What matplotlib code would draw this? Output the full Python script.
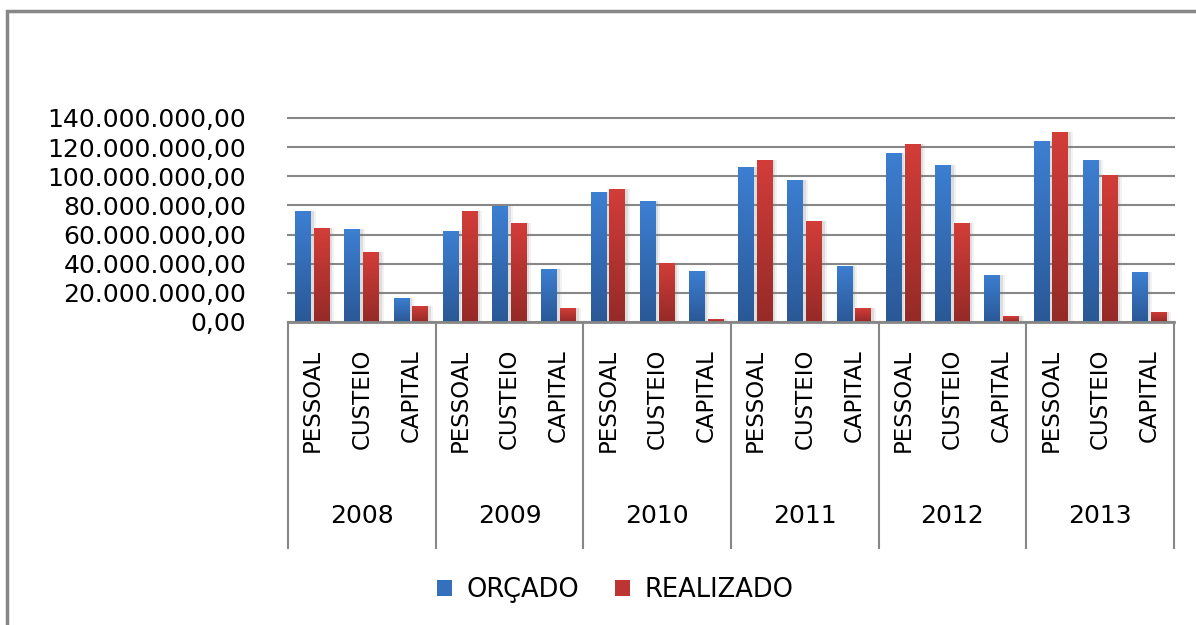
import numpy as np
import matplotlib
matplotlib.use("Agg")
import matplotlib.pyplot as plt
from matplotlib.patches import Patch, Rectangle
from matplotlib.colors import LinearSegmentedColormap
import matplotlib.transforms as mtransforms

# dados
anos = ["2008", "2009", "2010", "2011", "2012", "2013"]
categorias = ["PESSOAL", "CUSTEIO", "CAPITAL"]
orcado = [76.2e6, 63.8e6, 16.5e6,
          62.5e6, 79.8e6, 36.4e6,
          89.2e6, 83.0e6, 35.0e6,
          106.4e6, 97.5e6, 38.6e6,
          116.0e6, 107.8e6, 32.3e6,
          124.2e6, 111.2e6, 34.3e6]
realizado = [64.5e6, 48.0e6, 11.0e6,
             76.2e6, 68.0e6, 9.6e6,
             91.3e6, 40.5e6, 2.0e6,
             111.2e6, 69.3e6, 9.6e6,
             122.2e6, 68.0e6, 4.1e6,
             130.4e6, 100.9e6, 6.9e6]
yticks = np.arange(0, 140e6 + 1, 20e6)

W, H = 1196, 625
fig = plt.figure(figsize=(W / 100, H / 100), dpi=100)
ax = fig.add_axes([288 / W, 1 - 322 / H, (1174 - 288) / W, (322 - 118) / H])

azul = LinearSegmentedColormap.from_list("azul", ["#2a5896", "#3d7fd2"])
verm = LinearSegmentedColormap.from_list("verm", ["#952a27", "#d33d39"])
grad = np.linspace(0, 1, 256).reshape(-1, 1)

x = np.arange(len(orcado))
larg = 0.325
desl = 0.19


def barras(xs, vals, cmap):
    # sombra leve a direita
    for k, a in [(0.05, 0.18), (0.09, 0.10)]:
        ax.bar(xs + k, vals, larg, color="#808080", alpha=a, zorder=2, linewidth=0)
    bs = ax.bar(xs, vals, larg, color="none", zorder=3, linewidth=0)
    for b in bs:
        x0, w, h = b.get_x(), b.get_width(), b.get_height()
        im = ax.imshow(grad, extent=[x0, x0 + w, 0, h], origin="lower",
                       cmap=cmap, aspect="auto", zorder=3)
        im.set_clip_path(b)


barras(x - desl, np.array(orcado), azul)
barras(x + desl, np.array(realizado), verm)

ax.set_xlim(-0.5, len(x) - 0.5)
ax.set_ylim(0, 140e6)
ax.set_yticks(yticks)
ax.set_yticklabels([f"{v:,.2f}".replace(",", "X").replace(".", ",").replace("X", ".") for v in yticks],
                   fontsize=18)
ax.tick_params(axis="y", length=0, pad=30)
ax.tick_params(axis="x", length=0, labelbottom=False)
ax.yaxis.grid(True, color="#878787", linewidth=1.5, zorder=0)
for gl in ax.get_ygridlines():
    gl.set_clip_on(False)
ax.set_axisbelow(True)
for s in ["top", "right", "left"]:
    ax.spines[s].set_visible(False)
ax.spines["bottom"].set_color("#878787")
ax.spines["bottom"].set_linewidth(2)
ax.spines["bottom"].set_zorder(4)

# rotulos de categoria e anos
tr = mtransforms.blended_transform_factory(ax.transData, fig.transFigure)
for i in x:
    ax.text(i, 1 - 349 / H, categorias[i % 3], rotation=90, ha="center", va="top",
            fontsize=16.5, transform=tr)
for g, ano in enumerate(anos):
    ax.text(g * 3 + 1, 1 - 516 / H, ano, ha="center", va="center", fontsize=18, transform=tr)
for g in range(len(anos) + 1):
    ax.plot([g * 3 - 0.5, g * 3 - 0.5], [1 - 322 / H, 1 - 548 / H], color="#878787",
            linewidth=1.5, transform=tr, clip_on=False)

# moldura externa
fig.patches.append(Rectangle((7 / W, -0.1), 1.2, 1 - 11 / H + 0.1, transform=fig.transFigure,
                             fill=False, edgecolor="#878787", linewidth=2.5))

handles = [Patch(facecolor="#3570bd", label="ORÇADO"),
           Patch(facecolor="#bd3532", label="REALIZADO")]
fig.legend(handles=handles, loc="center", bbox_to_anchor=(615 / W, 1 - 590 / H), ncol=2,
           frameon=False, fontsize=18.5, handlelength=0.6, handleheight=0.6,
           handletextpad=0.55, columnspacing=1.4)

fig.savefig("out.png", dpi=100)
